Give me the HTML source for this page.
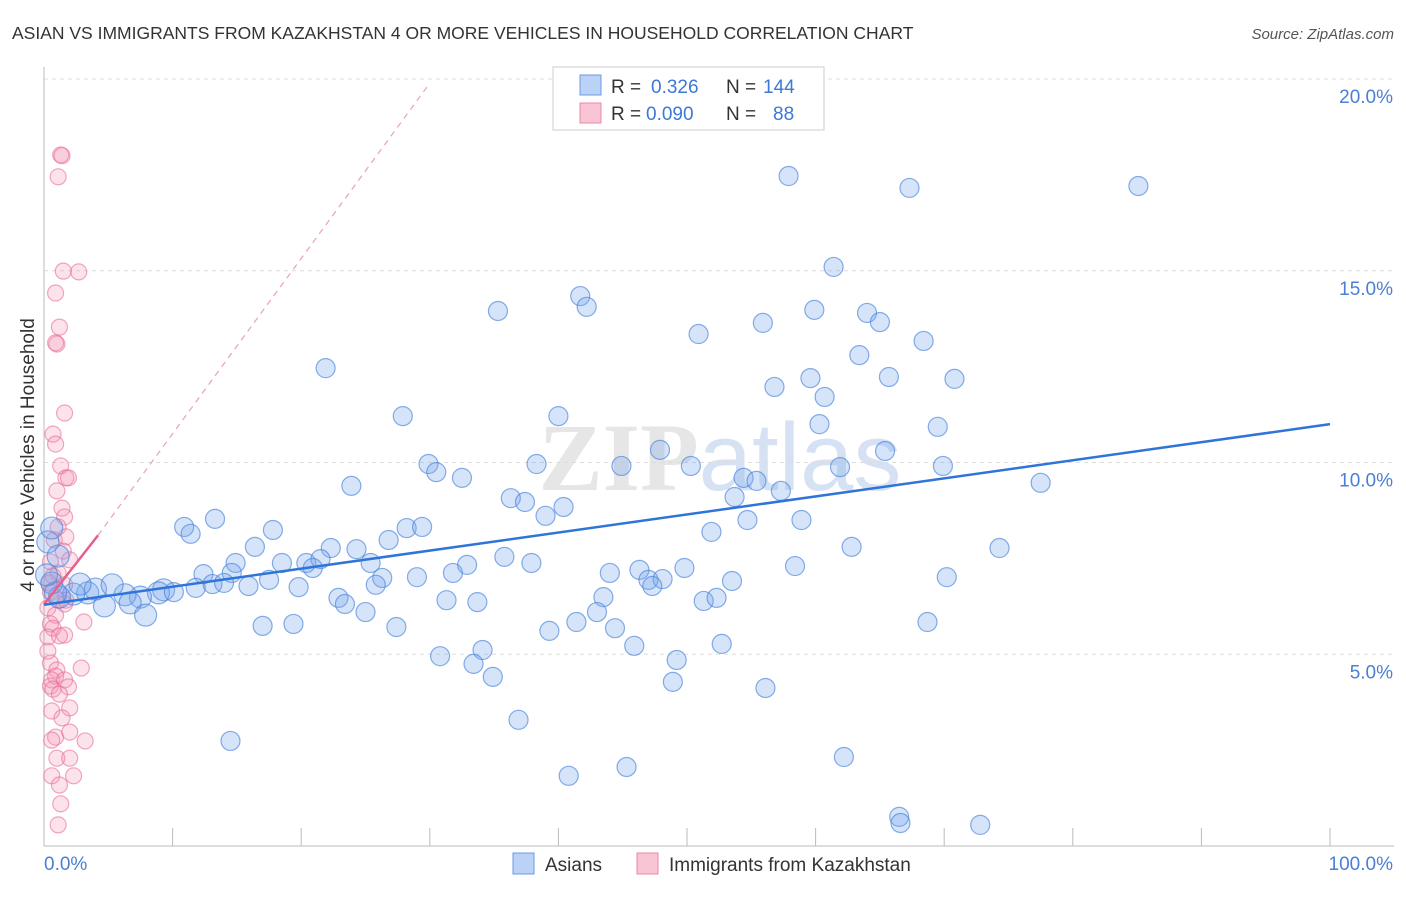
<!DOCTYPE html>
<html><head><meta charset="utf-8"><style>
body{margin:0;background:#fff;font-family:"Liberation Sans",sans-serif;}
</style></head><body>
<svg id="chart" width="1406" height="892" xmlns="http://www.w3.org/2000/svg" style="font-family:'Liberation Sans',sans-serif">
<text x="12" y="39" font-size="17.5" fill="#333">ASIAN VS IMMIGRANTS FROM KAZAKHSTAN 4 OR MORE VEHICLES IN HOUSEHOLD CORRELATION CHART</text>
<text x="1394" y="39" font-size="15" fill="#555" font-style="italic" text-anchor="end">Source: ZipAtlas.com</text>
<text x="720" y="490" font-size="96" fill="#e6e6e6" text-anchor="middle" font-family="Liberation Serif,serif" font-weight="bold">ZIP<tspan font-family="Liberation Sans,sans-serif" font-weight="normal" fill="#d6e2f3">atlas</tspan></text>
<g id="grid"></g>
<g id="axes"></g>
<g id="pink"></g>
<g id="blue"></g>
<g id="trends"></g>
<text transform="translate(34,455) rotate(-90)" font-size="19" fill="#333" text-anchor="middle">4 or more Vehicles in Household</text>
<text x="44" y="870" font-size="19" fill="#4a7fd4">0.0%</text>
<text x="1393" y="870" font-size="19" fill="#4a7fd4" text-anchor="end">100.0%</text>
<g>
<rect x="553" y="67" width="271" height="63" fill="#fff" stroke="#ccc"/>
<rect x="580" y="75" width="21" height="20" fill="#b9d2f5" stroke="#6a9be0"/>
<rect x="580" y="103" width="21" height="20" fill="#f9c4d3" stroke="#e889a7"/>
<text x="611" y="93" font-size="19" fill="#333">R = <tspan x="651" fill="#3c78d8">0.326</tspan><tspan x="726" fill="#333">N = </tspan><tspan x="763" fill="#3c78d8">144</tspan></text>
<text x="611" y="120" font-size="19" fill="#333">R = <tspan x="646" fill="#3c78d8">0.090</tspan><tspan x="726" fill="#333">N = </tspan><tspan x="773" fill="#3c78d8">88</tspan></text>
</g>
<g>
<rect x="513" y="853" width="21" height="21" fill="#b9d2f5" stroke="#6a9be0"/>
<text x="545" y="871" font-size="19" fill="#333">Asians</text>
<rect x="637" y="853" width="21" height="21" fill="#f9c4d3" stroke="#e889a7"/>
<text x="669" y="871" font-size="19" fill="#333">Immigrants from Kazakhstan</text>
</g>
</svg>
<script>
const yTicks=[5,10,15,20];
const yTickLabels=["5.0%","10.0%","15.0%","20.0%"];
const xTicks=[0,10,20,30,40,50,60,70,80,90,100];
const blueX=[57.9,67.3,85.1,61.4,41.7,42.2,35.3,50.9,55.9,59.9,64.0,65.0,68.4,63.4,21.9,56.8,59.6,65.7,70.8,60.7,27.9,40.0,60.3,69.5,47.9,65.4,29.9,30.5,32.5,38.3,44.9,50.3,61.9,69.9,54.4,55.4,77.5,23.9,36.3,37.4,53.7,57.3,40.4,39.0,13.3,10.9,11.4,17.8,28.2,29.4,26.8,54.7,58.9,51.9,16.4,22.3,24.3,14.9,18.5,20.4,21.5,20.9,25.4,35.8,37.9,62.8,74.3,12.4,14.6,17.5,19.8,29.0,26.3,25.8,31.8,32.9,44.0,46.3,47.0,48.1,49.8,58.4,47.3,53.5,70.2,15.9,13.1,14.0,11.8,9.3,8.9,10.1,7.5,6.3,4.7,6.7,7.9,3.4,2.3,4.0,5.3,2.8,1.2,0.6,0.9,0.2,0.3,0.6,1.1,22.9,23.4,31.3,33.7,43.5,43.0,51.3,52.3,25.0,39.3,41.4,44.4,17.0,19.4,27.4,45.9,52.7,68.7,30.8,34.1,33.4,34.9,49.2,48.9,56.1,14.5,36.9,40.8,45.3,62.2,66.5,66.6,72.8];
const blueY=[17.47,17.16,17.21,15.10,14.34,14.06,13.95,13.35,13.64,13.98,13.90,13.66,13.17,12.80,12.46,11.97,12.20,12.23,12.18,11.71,11.21,11.21,11.00,10.93,10.33,10.30,9.96,9.75,9.60,9.96,9.91,9.91,9.88,9.91,9.60,9.52,9.47,9.39,9.07,8.97,9.10,9.26,8.84,8.61,8.53,8.32,8.14,8.24,8.29,8.32,7.98,8.50,8.50,8.19,7.80,7.77,7.74,7.38,7.38,7.38,7.48,7.25,7.38,7.54,7.38,7.80,7.77,7.09,7.12,6.94,6.75,7.01,6.99,6.81,7.12,7.33,7.12,7.20,6.94,6.96,7.25,7.30,6.78,6.91,7.01,6.78,6.83,6.86,6.73,6.68,6.60,6.62,6.49,6.55,6.26,6.34,6.02,6.60,6.57,6.70,6.81,6.83,6.49,6.86,6.60,7.07,7.93,8.29,7.56,6.47,6.31,6.41,6.36,6.49,6.10,6.39,6.47,6.10,5.61,5.84,5.68,5.74,5.79,5.71,5.22,5.27,5.84,4.95,5.11,4.75,4.41,4.85,4.28,4.12,2.74,3.29,1.83,2.06,2.32,0.76,0.60,0.55];
const pinkX=[1.3,1.4,1.1,1.5,2.7,0.9,1.2,1.0,0.9,1.6,0.7,0.9,1.3,1.7,1.9,1.0,1.4,1.6,1.1,0.8,1.7,1.5,2.0,0.5,1.1,0.7,0.4,1.6,0.5,1.1,1.7,1.6,0.3,0.9,3.1,0.5,0.7,0.3,1.6,1.2,0.3,0.5,1.0,2.9,0.9,0.6,0.5,1.6,1.9,0.7,1.2,2.0,0.6,1.4,0.9,2.0,3.2,0.6,1.0,2.0,0.6,2.3,1.2,1.3,1.1];
const pinkY=[18.02,18.0,17.45,14.99,14.97,14.42,13.53,13.09,13.12,11.29,10.74,10.48,9.91,9.60,9.60,9.26,8.81,8.58,8.32,7.98,8.06,7.69,7.46,7.41,7.12,7.04,6.86,6.81,6.62,6.41,6.41,6.31,6.21,6.02,5.84,5.79,5.68,5.45,5.50,5.48,5.08,4.77,4.59,4.64,4.43,4.33,4.17,4.33,4.15,4.09,3.96,3.60,3.52,3.34,2.84,2.97,2.74,2.76,2.29,2.29,1.83,1.83,1.59,1.10,0.55];
const blueTrendX=[0,100];
const blueTrendY=[6.29,11.0];
const pinkTrendX=[0,4.2];
const pinkTrendY=[6.3,8.1];
const pinkDashX=[4.2,29.8];
const pinkDashY=[8.1,19.8];

const NS="http://www.w3.org/2000/svg";
const sx=v=>44+v*12.86;
const sy=v=>846-v*38.35;
function mk(tag,attrs,parent){const e=document.createElementNS(NS,tag);for(const k in attrs)e.setAttribute(k,attrs[k]);document.getElementById(parent).appendChild(e);return e;}

yTicks.forEach((t,i)=>{
  const l=mk('line',{x1:44,x2:1394,y1:sy(t),y2:sy(t),stroke:'#dcdcdc','stroke-dasharray':'4,4'},'grid');
  
  
  const tx=mk('text',{x:1393,y:sy(t)+24,'font-size':19,fill:'#4a7fd4','text-anchor':'end'},'grid');
  tx.textContent=yTickLabels[i];
  
  
});
const ax=mk('line',{x1:44,x2:44,y1:67,y2:846,stroke:'#bbb'},'axes');


const bx=mk('line',{x1:44,x2:1394,y1:846,y2:846,stroke:'#bbb'},'axes');


xTicks.forEach(t=>{
  const l=mk('line',{x1:sx(t),x2:sx(t),y1:828,y2:846,stroke:'#bbb'},'axes');
  
  
});
pinkX.forEach((x,i)=>{
  const c=mk('circle',{cx:sx(x),cy:sy(pinkY[i]),r:8,fill:'rgba(244,143,177,0.25)',stroke:'rgba(232,110,150,0.6)','stroke-width':1.2},'pink');
  
  
});
blueX.forEach((x,i)=>{
  const r=x<10?11:9.5;
  const c=mk('circle',{cx:sx(x),cy:sy(blueY[i]),r:r,fill:'rgba(120,165,235,0.3)',stroke:'rgba(70,130,220,0.65)','stroke-width':1.2},'blue');
  
  
});
const pd=mk('line',{x1:sx(pinkDashX[0]),y1:sy(pinkDashY[0]),x2:sx(pinkDashX[1]),y2:sy(pinkDashY[1]),stroke:'#eba0b8','stroke-width':1.2,'stroke-dasharray':'6,5'},'trends');


const pt=mk('line',{x1:sx(pinkTrendX[0]),y1:sy(pinkTrendY[0]),x2:sx(pinkTrendX[1]),y2:sy(pinkTrendY[1]),stroke:'#e8608a','stroke-width':2.5},'trends');


const bt=mk('line',{x1:sx(blueTrendX[0]),y1:sy(blueTrendY[0]),x2:sx(blueTrendX[1]),y2:sy(blueTrendY[1]),stroke:'#2f74d8','stroke-width':2.5},'trends');


</script>
</body></html>
